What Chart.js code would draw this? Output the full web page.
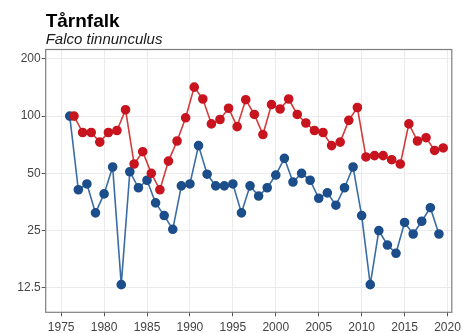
<!DOCTYPE html>
<html>
<head>
<meta charset="utf-8">
<script src="https://cdn.jsdelivr.net/npm/chart.js@4"></script>
<style>
  html, body { margin: 0; padding: 0; background: #fff; }
  #wrap { width: 465px; height: 333px; }
</style>
</head>
<body>
<div id="wrap"><canvas id="grafico"></canvas></div>
<script>
const anos = [1976, 1977, 1978, 1979, 1980, 1981, 1982, 1983, 1984, 1985, 1986, 1987, 1988, 1989, 1990,
  1991, 1992, 1993, 1994, 1995, 1996, 1997, 1998, 1999, 2000, 2001, 2002, 2003, 2004, 2005,
  2006, 2007, 2008, 2009, 2010, 2011, 2012, 2013, 2014, 2015, 2016, 2017, 2018, 2019];

const serieAzul = [100, 41, 44, 31, 39, 54, 13, 51, 42, 46, 35, 30, 25.4, 43, 44,
  70, 49.5, 43, 43, 44, 31, 43, 38, 42, 49, 60, 45, 50, 46, 37,
  39.5, 34, 42, 54, 30, 13, 25, 21, 19, 27.6, 24, 28, 33, 24];

const serieVermelha = [100, 82, 82, 73, 82, 84, 108, 56, 65, 50, 41, 58, 74, 98, 142,
  123, 91, 96, 110, 88, 122, 102, 80, 115, 109, 123, 102, 92, 84, 82,
  70, 73, 95, 111, 61, 62, 62, 59, 56, 91, 74, 77, 66, 68];

// red series sits half a year later
const deslocVermelha = 0.5;

const ticksX = [1975, 1980, 1985, 1990, 1995, 2000, 2005, 2010, 2015, 2020];
const ticksY = [12.5, 25, 50, 100, 200];

const bordaPainel = {
  id: 'bordaPainel',
  afterDatasetsDraw(chart) {
    const a = chart.chartArea;
    const ctx = chart.ctx;
    ctx.save();
    ctx.strokeStyle = '#7f7f7f';
    ctx.lineWidth = 1.2;
    ctx.strokeRect(a.left, a.top, a.right - a.left, a.bottom - a.top);
    ctx.restore();
  }
};

function gerarGrafico() {
  const ctx = document.getElementById('grafico').getContext('2d');
  new Chart(ctx, {
    type: 'line',
    data: {
      datasets: [{
        data: anos.map((a, i) => ({ x: a + deslocVermelha, y: serieVermelha[i] })),
        borderColor: '#d23c3c',
        backgroundColor: '#c8141e',
        pointBackgroundColor: '#c8141e',
        pointBorderColor: '#c8141e',
        borderWidth: 1.6,
        pointRadius: 4,
        tension: 0
      }, {
        data: anos.map((a, i) => ({ x: a, y: serieAzul[i] })),
        borderColor: '#3a6ca5',
        backgroundColor: '#1b4e8a',
        pointBackgroundColor: '#1b4e8a',
        pointBorderColor: '#1b4e8a',
        borderWidth: 1.6,
        pointRadius: 4,
        tension: 0
      }]
    },
    options: {
      responsive: true,
      maintainAspectRatio: false,
      animation: false,
      layout: { padding: { left: 0, right: 12, top: 0, bottom: 0 } },
      plugins: {
        legend: { display: false },
        tooltip: { enabled: false },
        title: {
          display: true,
          text: 'Tårnfalk',
          align: 'start',
          fullSize: false,
          color: '#000',
          font: { family: 'Liberation Sans', size: 19, weight: 'bold', lineHeight: 1 },
          padding: { top: 12.5, bottom: 0 }
        },
        subtitle: {
          display: true,
          text: 'Falco tinnunculus',
          align: 'start',
          fullSize: false,
          color: '#1a1a1a',
          font: { family: 'Liberation Sans', size: 15, style: 'italic', lineHeight: 1 },
          padding: { top: 1, bottom: 2 }
        }
      },
      scales: {
        x: {
          type: 'linear',
          min: 1973.2,
          max: 2020.5,
          afterBuildTicks: s => { s.ticks = ticksX.map(v => ({ value: v })); },
          afterFit: s => { s.height = 20.7; },
          grid: { color: '#ebebeb', lineWidth: 1, tickColor: '#555', tickLength: 4 },
          border: { display: false },
          ticks: {
            color: '#444',
            padding: 4,
            maxRotation: 0,
            font: { family: 'Liberation Sans', size: 12 },
            callback: v => String(v)
          }
        },
        y: {
          type: 'logarithmic',
          min: 9.3,
          max: 224,
          afterBuildTicks: s => { s.ticks = ticksY.map(v => ({ value: v })); },
          afterFit: s => { s.width = 45.7; },
          grid: { color: '#ebebeb', lineWidth: 1, tickColor: '#555', tickLength: 4 },
          border: { display: false },
          ticks: {
            color: '#444',
            padding: 1,
            font: { family: 'Liberation Sans', size: 12 },
            callback: v => String(v)
          }
        }
      }
    },
    plugins: [bordaPainel]
  });
}

document.addEventListener('DOMContentLoaded', () => {
  gerarGrafico();
});
</script>
</body>
</html>
